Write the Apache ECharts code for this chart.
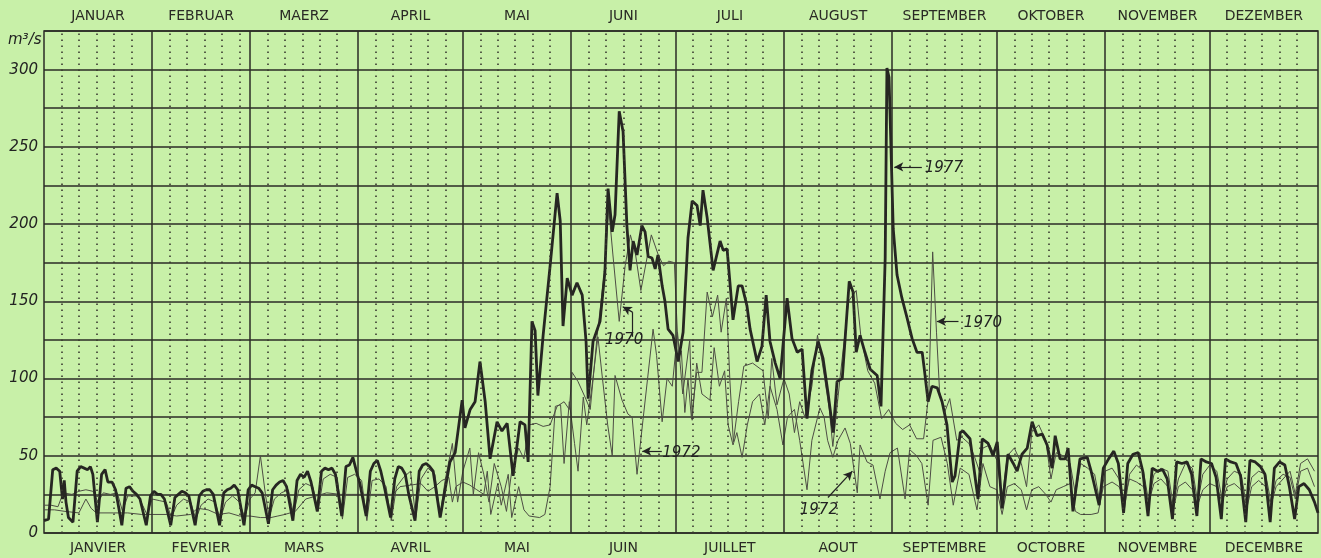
<!DOCTYPE html>
<html>
<head>
<meta charset="utf-8">
<script src="https://cdn.jsdelivr.net/npm/echarts@6/dist/echarts.min.js"></script>
<style>
  html, body { margin: 0; padding: 0; background: #c8f0a8; }
  #chart { width: 1321px; height: 558px; }
</style>
</head>
<body>
<div id="chart"></div>
<script>
// day-of-year where each month starts (last = 365)
const monthStarts = [0, 31, 59, 90, 120, 151, 181, 212, 243, 273, 304, 334, 365]
const monthsDe = ['JANUAR', 'FEBRUAR', 'MAERZ', 'APRIL', 'MAI', 'JUNI', 'JULI', 'AUGUST', 'SEPTEMBER', 'OKTOBER', 'NOVEMBER', 'DEZEMBER']
const monthsFr = ['JANVIER', 'FEVRIER', 'MARS', 'AVRIL', 'MAI', 'JUIN', 'JUILLET', 'AOUT', 'SEPTEMBRE', 'OCTOBRE', 'NOVEMBRE', 'DECEMBRE']
const yLabels = [0, 50, 100, 150, 200, 250, 300]

// discharge m3/s, [day, value]
const q1977 = [
  [0,8],[1.3,9],[2.5,41],[3.5,42],[4.5,40],[5.3,22],[5.8,34],[6.3,20],[7,10],[8.3,7],[9.5,40],[10.5,43],[11.5,42],[12.5,41],[13.3,43],[14,38],[15.3,7],[16.5,38],[17.5,41],[18.3,33],[19.5,33],[20.5,28],[22.3,5],[23.5,29],[24.5,30],[25.5,27],[26.5,25],[27.5,22],[29.3,5],
  [30.5,24],[31.5,27],[32.5,25],[33.5,25],[34.5,22],[36.3,5],[37.5,23],[38.5,25],[39.5,27],[40.5,26],[41.5,24],[43.3,5],[44.5,24],[45.5,27],[46.5,28],[47.5,28],[48.5,25],[50.3,5],[51.5,26],[52.5,28],[53.5,29],[54.5,31],[55.5,28],[57.3,5],
  [58.5,28],[59.5,31],[60.5,30],[61.5,29],[62.5,26],[64.3,6],[65.5,28],[66.5,31],[67.5,33],[68.5,34],[69.5,30],[71.3,8],[72.5,34],[73.5,38],[74.5,36],[75.5,40],[76.5,33],[78.3,14],[79.5,40],[80.5,42],[81.5,41],[82.5,42],[83.5,38],[85.3,11],
  [86.5,43],[87.5,44],[88.5,49],[89.5,40],[90.5,32],[92.3,11],[93.5,40],[94.5,45],[95.5,47],[96.5,40],[97.5,30],[99.3,10],[100.5,35],[101.5,43],[102.5,42],[103.5,38],[104.5,25],[106.3,8],[107.5,40],[108.5,44],[109.5,45],[110.5,43],[111.5,40],[113.5,10],
  [116.3,46],[117.8,52],[119.8,86],[120.6,68],[122.1,80],[123.5,85],[124.9,111],[126.4,85],[127.8,48],[129.8,72],[131.2,66],[132.7,71],[134.4,37],[136.4,72],[137.8,70],[138.7,46],[139.8,137],[140.7,131],[141.5,89],[143,128],[145,173],[147,220],[147.9,202],[148.7,134],[149.9,165],[151.3,154],[152.7,162],[154.2,154],[155.3,124],[155.9,87],[157.3,124],[159.3,137],
  [160.7,169],[161.6,223],[162.8,195],[163.6,206],[164.8,273],[165.9,260],[167,199],[167.9,170],[168.8,189],[169.9,180],[171.3,199],[172.2,195],[173.1,179],[174.2,178],[175.1,171],[175.9,180],[177.1,160],[177.9,150],[178.8,132],[180.2,128],
  [181.7,111],[183.1,130],[184.5,191],[185.7,215],[187.1,212],[188,199],[188.8,222],[190,204],[191.7,170],[193.7,189],[194.6,183],[195.7,184],[196.6,160],[197.4,138],[198.9,160],[200,160],[201.4,147],[202.3,132],[204.3,111],[205.7,121],[206.9,154],[208,124],[209.5,110],[210.9,100],
  [212.9,152],[214.3,126],[215.8,117],[217.2,119],[218.6,74],[220,105],[221.8,124],[223.2,113],[224.6,91],[226.1,65],[227.2,98],[228.7,100],[230.7,163],[231.8,156],[232.7,117],[233.8,128],[235.2,117],[236.7,106],[238.7,102],[239.8,82],[241,178],[241.5,301],[242.1,295],
  [243.3,197],[244.4,167],[245.8,152],[247.3,139],[248.7,126],[250.1,117],[251.6,117],[252.1,108],[253.3,85],[254.4,95],[255.9,94],[257.3,85],[258.7,70],[260.2,33],[261,37],[262.5,65],[263.3,66],[265.3,61],[267.6,22],[268.8,61],[270.5,58],[271.9,50],
  [273.1,59],[274.5,16],[276.2,51],[277.7,45],[278.8,40],[280.2,51],[281.7,55],[283.1,72],[284.5,63],[286,64],[287.4,57],[288.8,42],[289.7,63],[291.1,48],[292.6,48],[293.4,55],[294.8,14],[296.8,48],[298.9,49],[300,40],[302.3,18],
  [303.5,42],[305,48],[306.5,53],[307.8,45],[309.3,13],[310.5,45],[312,51],[313.5,52],[314.8,40],[316.3,11],[317.5,42],[319,40],[320.5,41],[321.8,35],[323.3,9],[324.5,46],[326,45],[327.5,46],[328.8,38],[330.3,11],[331.5,48],[333,46],
  [334.5,45],[335.8,36],[337.3,9],[338.5,48],[340,46],[341.5,45],[342.8,37],[344.3,7],[345.5,47],[347,46],[348.5,43],[349.8,38],[351.3,7],[352.5,42],[354,46],[355.5,44],[356.8,30],[358.3,9],[359.5,30],[361,32],[362.5,28],[364,20],[365,13]
]

const q1970 = [
  [0,18],[2,18],[4,17],[5.5,26],[8,25],[10,27],[12,28],[14,27],[15.5,20],[17,26],[19,25],[21,26],[22.5,14],[24,24],[27,24],[29.5,12],[31,22],
  [33,21],[35,20],[36.5,10],[38,18],[40,22],[42,20],[43.5,9],[45,18],[47,22],[49,20],[50.5,9],[52,20],[54,24],[56,20],[57.5,10],
  [59,22],[60.5,26],[62,50],[63.5,24],[64.5,10],[66,22],[68,26],[70,28],[71.5,12],[73,28],[75,32],[77,30],[78.5,14],[80,35],[82,38],[84,36],[85.5,9],
  [87,36],[89,38],[91,34],[92.5,8],[94,34],[96,35],[98,30],[99.5,8],[101,30],[103,36],[105,40],[106.5,10],[108,35],[110,42],[112,38],[113.5,12],
  [115,35],[117,58],[118.5,20],[120,40],[122,55],[123,25],[124.5,52],[126,38],[127.5,20],[129,45],[131,30],[132.5,14],[134,40],[136,55],[137.5,48],[139,70],[141,71],[143,69],[145,70],[147,82],[149,85],[150.5,80],
  [151.3,104],[153,98],[155,88],[156.5,80],[158.5,128],[160.5,168],[161.8,210],[163,180],[164.8,137],[166.5,173],[168,193],[169.5,180],[171,157],[172.5,175],[174,193],[176,180],[177.5,173],[179,176],[180.6,175],
  [181.2,143],[181.8,113],[182.6,118],[183.6,78],[184.5,100],[185.5,74],[187,104],[188.5,104],[190,156],[191.5,140],[193,154],[194,130],[195.5,152],[196.5,99],[197.5,59],[199,85],[200.5,108],[203,110],[206,105],[207.5,74],[208.5,113],[210,83],
  [212,100],[213.5,90],[215,65],[216.5,85],[218,75],[220,95],[221.6,128],[223,110],[225,80],[226,56],[228,99],[230.5,150],[232.7,157],[234,128],[236,105],[238,97],[240,74],[242,80],
  [244,71],[246,67],[248,70],[250,61],[252,61],[253.5,90],[254.6,182],[255.7,130],[256.6,91],[258,78],[259.5,87],[261.5,60],[263,62],[265,58],[266.5,50],[268,40],[269,55],[271,57],
  [273,47],[274.5,22],[276,50],[278,55],[280,45],[281.5,30],[283,65],[285,70],[287,60],[288.5,35],[290,52],[292,50],[294,45],[295.5,25],[297,45],[299,42],[301,38],[302.5,20],
  [304,40],[306,42],[308,35],[309.5,15],[311,38],[313,44],[315,40],[316.5,20],[318,38],[320,42],[322,40],[323.5,18],[325,35],[327,45],[329,42],[330.5,20],[332,38],
  [334,44],[336,40],[337.5,22],[339,35],[341,40],[343,38],[344.5,18],[346,36],[348,40],[350,38],[351.5,20],[353,34],[355,38],[357,36],[358.5,22],[360,40],[362,42],[364,30]
]

const q1972 = [
  [0,15],[3,15],[6,14],[10,13],[12,22],[13.5,16],[15,13],[20,13],[24,13],[28,12],
  [31,12],[35,12],[38,11],[42,12],[44,16],[47,15],[50,12],[53,13],[56,11],
  [59,11],[62,10],[65,10],[67,11],[69,12],[72,14],[75,22],[78,24],[81,26],[85,25],
  [88,25],[92,25],[96,25],[100,25],[102,30],[105,31],[108,32],[110,27],[112,30],[114,34],[116,36],[117,20],[118,30],
  [120,33],[122,31],[124,28],[126,25],[127,40],[128,12],[130,32],[131,18],[133,38],[134,10],[136,30],[137.5,15],[139,11],[142,10],[143.5,12],[145,30],[146.5,82],[148,83],[149,45],[150.5,85],
  [152,58],[153,40],[154.5,88],[155.5,70],[157,95],[158.7,127],[160,100],[161.5,70],[162.8,50],[163.6,102],[165.6,86],[167.3,77],[168.5,75],[169.9,38],[171.6,73],[174.5,132],[175.5,115],[177.1,72],[178.5,100],[180,95],
  [181.5,130],[183,90],[185,125],[185.7,73],[187,110],[188.5,90],[190.8,86],[192,120],[193.5,95],[195,105],[196,70],[197.4,57],[198.5,65],[200,49],[201.5,70],[203,85],[205,90],[206.5,70],[208,95],[210,80],
  [211.7,57],[213,75],[215,80],[216.5,60],[218.6,28],[220,60],[222.3,81],[223.5,75],[224.5,60],[226,49],[227.5,60],[229.5,68],[231,58],[233,26],[233.8,57],[235.8,46],[237.5,44],[239.5,22],[241,40],[242.4,52],
  [244.5,55],[246.7,22],[248,54],[250,50],[251.5,45],[253.3,18],[254.7,60],[257,62],[258.8,45],[260.5,18],[262.5,42],[265,38],[267.3,15],[269,45],[271,30],
  [273,28],[274.5,12],[276,30],[278,32],[280,28],[281.5,15],[283,28],[285,30],[287,25],[288.5,20],[290,28],[292,30],[294,32],[295.5,14],[297,12],[300,12],[302,13],
  [303.5,30],[306,33],[308,30],[309.5,22],[311,35],[313,33],[315,30],[316.5,20],[318,32],[320,35],[322,30],[323.5,15],[325,30],[327,33],[329,28],[330.5,18],[332,28],
  [334,32],[336,30],[337.5,20],[339,30],[341,32],[343,28],[344.5,15],[346,30],[348,34],[350,30],[351.5,18],[353,30],[355,35],[357,40],[358.5,25],[360,45],[362,48],[364,40]
]

const ink = '#2b2b26'
const monthCenters = monthStarts.slice(0, 12).map((s, i) => (s + monthStarts[i + 1]) / 2)

// vertical grid: solid month borders, dotted every 5 days
const monthLines = monthStarts.slice(1, 12).map((d) => ({ xAxis: d, lineStyle: { type: 'solid', width: 1.5, color: ink } }))
const dotLines = []
monthStarts.slice(0, 12).forEach((s) => {
  for (let k = 1; k <= 5; k++) {
    dotLines.push({ xAxis: s + 5 * k, lineStyle: { type: [1.5, 4.5], width: 1.6, color: '#3a3a30' } })
  }
})

const labelFont = { fontFamily: 'DejaVu Sans', fontSize: 14, color: '#2a2a25' }
const noteLabel = { show: true, fontFamily: 'DejaVu Sans', fontStyle: 'italic', fontSize: 15, color: '#222' }

const monthAxis = (pos, names) => ({
  type: 'value',
  min: 0,
  max: 365,
  position: pos,
  axisLine: { show: false },
  axisTick: { show: false },
  splitLine: { show: false },
  axisLabel: {
    ...labelFont,
    margin: 8,
    customValues: monthCenters,
    formatter: (v) => {
      const i = monthCenters.indexOf(v)
      return i >= 0 ? names[i] : ''
    }
  }
})

const chart = echarts.init(document.getElementById('chart'))
chart.setOption({
  backgroundColor: '#c8f0a8',
  animation: false,
  grid: { left: 44, right: 3, top: 31, bottom: 25, show: true, borderColor: ink, borderWidth: 1.5 },
  graphic: [
    { type: 'text', left: 8, top: 33, style: { text: 'm³/s', font: 'italic 15px DejaVu Sans', fill: '#222' } }
  ],
  xAxis: [
    { type: 'value', min: 0, max: 365, show: false },
    monthAxis('top', monthsDe),
    monthAxis('bottom', monthsFr)
  ],
  yAxis: {
    type: 'value',
    min: 0,
    max: 325,
    interval: 25,
    axisLine: { show: false },
    axisTick: { show: false },
    splitLine: { lineStyle: { color: ink, width: 1.5 } },
    axisLabel: {
      margin: 6,
      fontFamily: 'DejaVu Sans',
      fontStyle: 'italic',
      fontSize: 15,
      color: '#222',
      formatter: (v) => (yLabels.includes(v) ? String(v) : '')
    }
  },
  series: [
    {
      type: 'line',
      data: [],
      silent: true,
      markLine: {
        silent: true,
        symbol: ['none', 'none'],
        label: { show: false },
        data: [...dotLines, ...monthLines]
      }
    },
    {
      name: '1972',
      type: 'line',
      data: q1972,
      showSymbol: false,
      lineStyle: { color: '#4d4d44', width: 1 }
    },
    {
      name: '1970',
      type: 'line',
      data: q1970,
      showSymbol: false,
      lineStyle: { color: '#4d4d44', width: 1 }
    },
    {
      name: '1977',
      type: 'line',
      data: q1977,
      showSymbol: false,
      lineStyle: { color: '#262622', width: 2.8 },
      markLine: {
        silent: true,
        symbol: ['none', 'arrow'],
        symbolSize: [7, 9],
        lineStyle: { color: '#222', width: 1.2, type: 'solid' },
        label: { show: false },
        data: [
          [{ coord: [251.5, 237] }, { coord: [243.6, 237] }],
          [{ coord: [262, 137] }, { coord: [255.8, 137] }],
          [{ coord: [168.6, 127], symbol: 'none' }, { coord: [168.6, 143], symbol: 'none' }],
          [{ coord: [168.6, 143] }, { coord: [165.8, 146.5] }],
          [{ coord: [177, 53] }, { coord: [171.4, 53] }],
          [{ coord: [224.6, 23] }, { coord: [231.6, 40] }]
        ]
      },
      markPoint: {
        silent: true,
        symbol: 'circle',
        symbolSize: 0,
        label: { ...noteLabel, formatter: (p) => p.name },
        data: [
          { name: '1977', coord: [257.8, 236] },
          { name: '1970', coord: [269, 136] },
          { name: '1970', coord: [166.2, 125] },
          { name: '1972', coord: [182.6, 52] },
          { name: '1972', coord: [222, 15] }
        ]
      }
    }
  ]
})
</script>
</body>
</html>
